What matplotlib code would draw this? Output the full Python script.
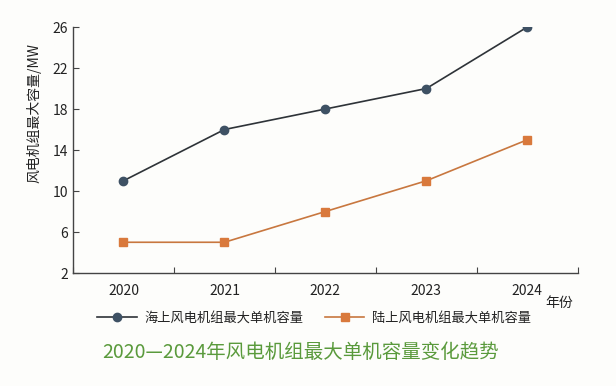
"""
2020-2024 wind turbine max unit capacity trend
"""

import numpy as np
import matplotlib.pyplot as plt

plt.rcParams['font.family'] = ['Noto Sans CJK SC', 'DejaVu Sans']

# Data
years = ['2020', '2021', '2022', '2023', '2024']
offshore = [11, 16, 18, 20, 26]
onshore = [5, 5, 8, 11, 15]
y_ticks = [2, 6, 10, 14, 18, 22, 26]

bg = '#fdfdfb'
fig = plt.figure(figsize=(6.16, 3.86), dpi=100, facecolor=bg)
ax = fig.add_axes([0.1185, 0.2927, 0.8195, 0.6373], facecolor=bg)

x = np.arange(len(years))
ax.plot(x, offshore, color='#2e3338', lw=1.2, marker='o', ms=6,
        mfc='#3e5164', mec='#3e5164', label='海上风电机组最大单机容量')
ax.plot(x, onshore, color='#c8773f', lw=1.2, marker='s', ms=6,
        mfc='#d9793c', mec='#d9793c', label='陆上风电机组最大单机容量')

ax.set_xlim(-0.5, len(years) - 0.5)
ax.set_ylim(2, 26)
ax.set_yticks(y_ticks)
ax.set_xticks(np.arange(len(years) + 1) - 0.5)
ax.set_xticklabels([])
ax.set_xticks(x, minor=True)
ax.set_xticklabels(years, minor=True)
ax.tick_params(axis='x', which='minor', length=0, pad=8, labelsize=10, colors='#222222')
ax.tick_params(axis='x', which='major', length=4, direction='in', color='#444444')
ax.tick_params(axis='y', length=4, direction='in', labelsize=10, colors='#222222')
ax.tick_params(axis='y', color='#444444')

for s in ['top', 'right']:
    ax.spines[s].set_visible(False)
for s in ['left', 'bottom']:
    ax.spines[s].set_color('#444444')
    ax.spines[s].set_linewidth(1.0)

ax.set_ylabel('风电机组最大容量/MW', fontsize=10, color='#222222')
ax.yaxis.set_label_coords(-0.062, 0.65)
fig.text(0.908, 0.215, '年份', fontsize=10, color='#222222', ha='center', va='center')

fig.legend(loc='center', bbox_to_anchor=(0.51, 0.175), ncol=2, frameon=False,
           fontsize=9.5, handlelength=3.0, handletextpad=0.6, columnspacing=1.6,
           labelcolor='#222222')

fig.text(0.488, 0.088, '2020—2024年风电机组最大单机容量变化趋势', fontsize=14,
         color='#5a9a3c', ha='center', va='center')

plt.savefig('out.png', dpi=100, facecolor=bg)
plt.close()
